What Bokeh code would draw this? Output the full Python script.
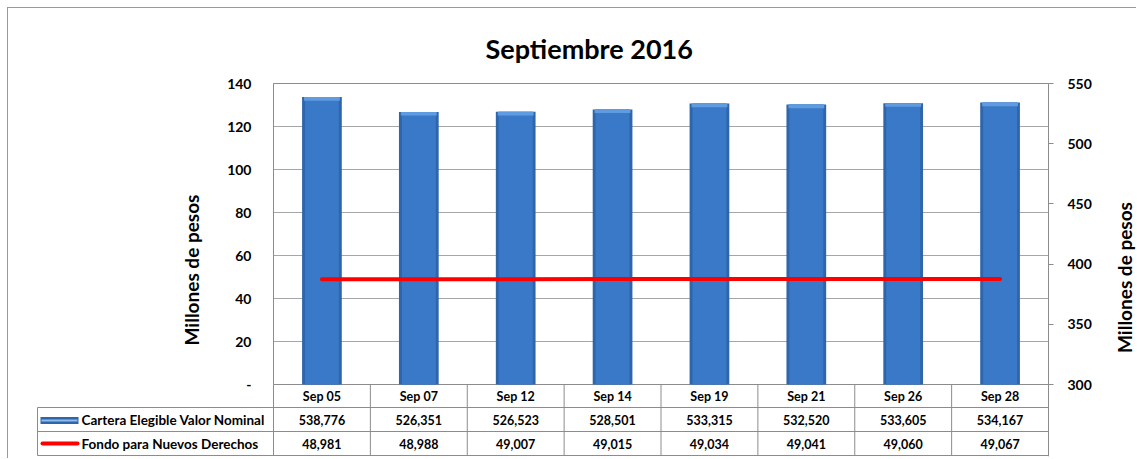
import math
from bokeh.plotting import figure
from bokeh.models import ColumnDataSource, Range1d, LinearAxis, FixedTicker, Title
from bokeh.embed import file_html
from bokeh.resources import INLINE
from bokeh.core.properties import value

# ---- data ----
categories = ["Sep 05", "Sep 07", "Sep 12", "Sep 14", "Sep 19", "Sep 21", "Sep 26", "Sep 28"]
cartera = [538776, 526351, 526523, 528501, 533315, 532520, 533605, 534167]   # miles de pesos
fondo = [48981, 48988, 49007, 49015, 49034, 49041, 49060, 49067]             # miles de pesos
left_ticks = [0, 20, 40, 60, 80, 100, 120, 140]
right_ticks = [300, 350, 400, 450, 500, 550]
series_names = ["Cartera  Elegible Valor Nominal", "Fondo para Nuevos Derechos"]
title_text = "Septiembre 2016"
axis_title = "Millones de pesos"

FONT = "Lato"
GRID = "#a6a6a6"
LINEC = "#8c8c8c"

# ---- layout geometry (page pixels) ----
PX_TABLE_L, PX_PLOT_L, PX_PLOT_R, PX_RIGHT = 37, 273, 1048, 1137
PX_FRAME_TOP, PX_TOP, PX_ZERO, PX_ROW1, PX_ROW2, PX_BOTTOM = 72, 83, 384, 407, 431, 455
CANVAS_X0, CANVAS_Y0, CANVAS_W, CANVAS_H = 8, 8, 1129, 451

n = len(categories)
ppu_x = (PX_PLOT_R - PX_PLOT_L) / n
ppu_y = (PX_ZERO - PX_TOP) / (left_ticks[-1] - left_ticks[0])
ppu_r = (PX_ZERO - PX_TOP) / (right_ticks[-1] - right_ticks[0])

def to_x(px):
    return -0.5 + (px - PX_PLOT_L) / ppu_x

def to_y(py):
    return (PX_ZERO - py) / ppu_y

def to_r(py):
    return right_ticks[0] + (PX_ZERO - py) / ppu_r

frame_l, frame_r, frame_b = PX_TABLE_L - 1, PX_RIGHT, PX_BOTTOM + 1

xs = list(range(n))
src = ColumnDataSource(dict(
    x=xs,
    top=[v / 1000 for v in cartera],
    top_b=[v / 1000 - 3.0 for v in cartera],
    fondo=[v / 1000 for v in fondo],
))

p = figure(width=CANVAS_W, height=CANVAS_H,
           x_range=Range1d(to_x(frame_l), to_x(frame_r)),
           y_range=Range1d(to_y(frame_b), to_y(PX_FRAME_TOP)),
           x_axis_location=None, output_backend="svg", toolbar_location=None,
           min_border_left=frame_l - CANVAS_X0,
           min_border_right=0,
           min_border_top=PX_FRAME_TOP - CANVAS_Y0,
           min_border_bottom=CANVAS_Y0 + CANVAS_H - frame_b,
           margin=(7, 0, 0, 7),
           styles={"border-left": "1px solid #9a9a9a", "border-top": "1px solid #9a9a9a"})
p.extra_y_ranges = {"right": Range1d(to_r(frame_b), to_r(PX_FRAME_TOP))}
p.outline_line_color = None
p.background_fill_color = "white"
p.border_fill_color = "white"
p.grid.visible = False

gx0, gx1 = -0.5, n - 0.5

# left axis, drawn at the left edge of the plot area
ya = p.yaxis[0]
ya.fixed_location = gx0
ya.bounds = (to_y(465), left_ticks[-1])
ya.ticker = FixedTicker(ticks=left_ticks)
ya.major_label_overrides = {0: "-"}
ya.axis_line_color = None
ya.major_tick_line_color = None
ya.minor_tick_line_color = None
ya.major_label_standoff = 16
ya.major_label_text_font = FONT
ya.major_label_text_font_style = "bold"
ya.major_label_text_font_size = "14px"
ya.major_label_text_color = "black"
ya.axis_label = axis_title
ya.axis_label_text_font = FONT
ya.axis_label_text_font_style = "bold"
ya.axis_label_text_font_size = "19px"
ya.axis_label_text_color = "black"
ya.axis_label_standoff = 21

# right axis, drawn at the right edge of the plot area
ra = LinearAxis(y_range_name="right", ticker=FixedTicker(ticks=right_ticks),
                bounds=(to_r(frame_b), right_ticks[-1]), fixed_location=gx1)
ra.axis_line_color = LINEC
ra.major_tick_line_color = LINEC
ra.major_tick_out = 5
ra.major_tick_in = 0
ra.minor_tick_line_color = None
ra.major_label_standoff = 14
ra.major_label_text_font = FONT
ra.major_label_text_font_style = "bold"
ra.major_label_text_font_size = "14px"
ra.major_label_text_color = "black"
p.add_layout(ra, "right")

# right axis title, reading bottom-to-top like the left one
p.text(x=[to_x(1124)], y=[to_y(277)], text=[axis_title], angle=math.pi / 2,
       text_align="center", text_baseline="middle", text_font=value(FONT),
       text_font_style="bold", text_font_size="19px", text_color="black")

p.title.visible = False
p.add_layout(Title(text=title_text, align="left", offset=485 - frame_l, text_font=FONT,
                   text_font_style="bold", text_font_size="27px", text_color="black",
                   standoff=15), "above")

# gridlines and plot-area box
p.segment(x0=[gx0] * len(left_ticks), y0=left_ticks, x1=[gx1] * len(left_ticks), y1=left_ticks,
          line_color=GRID, line_width=1)
p.segment(x0=[gx0], y0=[left_ticks[0]], x1=[gx0], y1=[left_ticks[-1]], line_color=LINEC, line_width=1)
p.segment(x0=[gx0, gx0], y0=[left_ticks[0], left_ticks[-1]], x1=[gx1, gx1],
          y1=[left_ticks[0], left_ticks[-1]], line_color=LINEC, line_width=1)

# bars (right axis)
p.vbar(x="x", top="top", bottom=right_ticks[0], width=0.41, source=src, y_range_name="right",
       fill_color="#2f66ab", line_color=None)
p.vbar(x="x", top="top", bottom=right_ticks[0], width=0.35, source=src, y_range_name="right",
       fill_color="#3a79c7", line_color=None)
p.vbar(x="x", top="top", bottom="top_b", width=0.37, source=src, y_range_name="right",
       fill_color="#5f9be0", line_color=None)
# line (left axis)
p.line(x="x", y="fondo", source=src, line_color="#ff0000", line_width=4, line_cap="round")

# ---- data table below the plot ----
y_r1, y_r2, y_b = to_y(PX_ROW1), to_y(PX_ROW2), to_y(PX_BOTTOM)
x_left = to_x(PX_TABLE_L)
bounds = [i - 0.5 for i in range(n + 1)]
p.segment(x0=bounds, y0=[y_b] * len(bounds), x1=bounds, y1=[0] * len(bounds), line_color=LINEC, line_width=1)
p.segment(x0=[x_left], y0=[y_b], x1=[x_left], y1=[y_r1], line_color=LINEC, line_width=1)
p.segment(x0=[x_left] * 3, y0=[y_r1, y_r2, y_b], x1=[bounds[-1]] * 3, y1=[y_r1, y_r2, y_b],
          line_color=LINEC, line_width=1)

txt = dict(text_font=value(FONT), text_font_style="bold", text_color="black", text_baseline="middle")
yc0, yc1, yc2 = y_r1 / 2, (y_r1 + y_r2) / 2, (y_r2 + y_b) / 2
p.text(x=xs, y=[yc0] * n, text=categories, text_align="center", text_font_size="12.5px", **txt)
p.text(x=xs, y=[yc1] * n, text=[f"{v:,}" for v in cartera], text_align="center", text_font_size="12.5px", **txt)
p.text(x=xs, y=[yc2] * n, text=[f"{v:,}" for v in fondo], text_align="center", text_font_size="12.5px", **txt)
p.text(x=[to_x(81)] * 2, y=[yc1, yc2], text=series_names, text_align="left", text_font_size="13.5px", **txt)

# legend swatches
p.quad(left=[to_x(40)], right=[to_x(78)], bottom=[to_y(423.5)], top=[to_y(416.5)],
       fill_color="#2f66ab", line_color=None)
p.quad(left=[to_x(41)], right=[to_x(77)], bottom=[to_y(421)], top=[to_y(419)],
       fill_color="#8dbcee", line_color=None)
p.segment(x0=[to_x(42)], y0=[yc2], x1=[to_x(77)], y1=[yc2], line_color="#ff0000", line_width=4,
          line_cap="round")

open("out.html", "w").write(file_html(p, INLINE))
